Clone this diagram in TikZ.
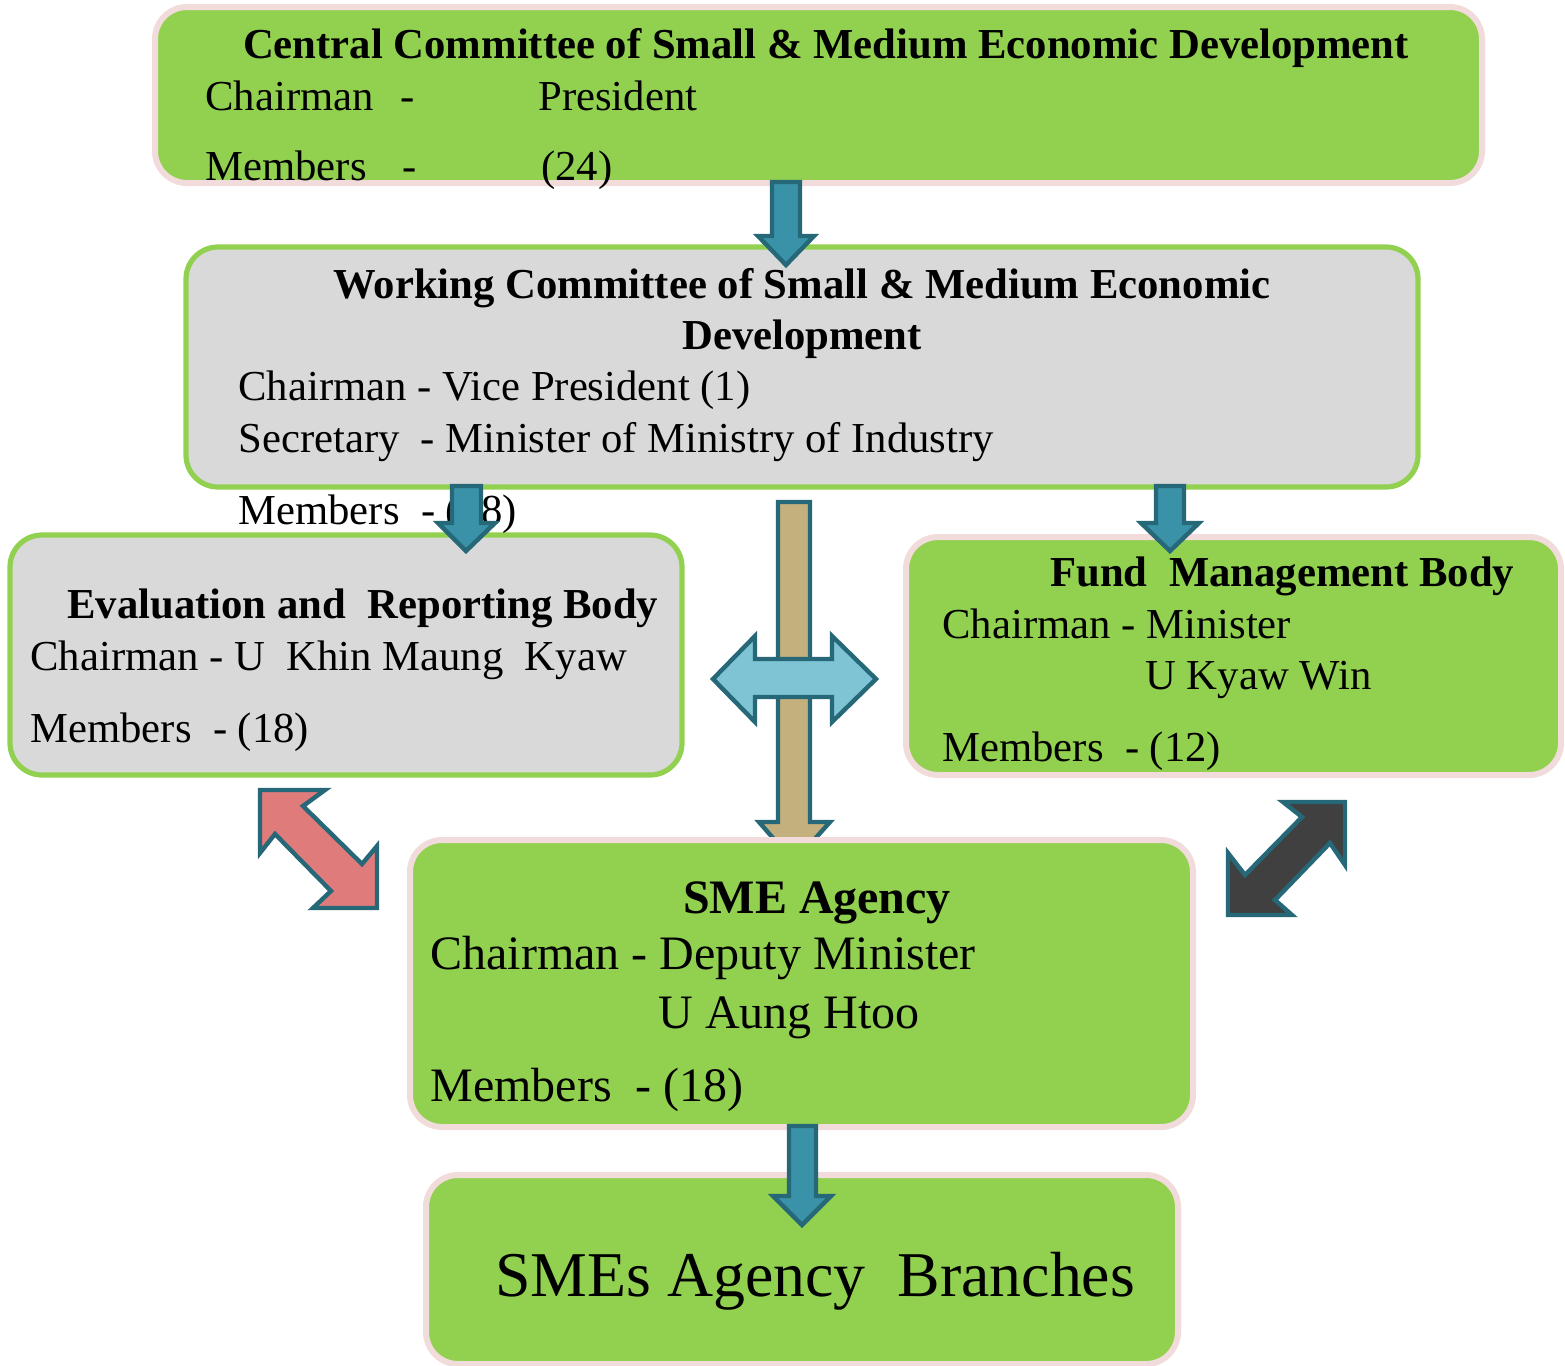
\documentclass[tikz,border=0pt]{standalone}
\usepackage{fontspec}
\setmainfont{Liberation Serif}
\definecolor{boxgreen}{RGB}{146,208,80}
\definecolor{boxpink}{RGB}{242,220,219}
\definecolor{boxgray}{RGB}{217,217,217}
\definecolor{arrfill}{RGB}{57,146,168}
\definecolor{arrline}{RGB}{38,103,120}
\definecolor{tanfill}{RGB}{196,176,124}
\definecolor{lightblue}{RGB}{127,196,212}
\definecolor{redfill}{RGB}{224,123,123}
\definecolor{darkfill}{RGB}{64,64,64}
\tikzset{
  greenbox/.style={fill=boxgreen, draw=boxpink, line width=3pt, rounded corners=16pt},
  graybox/.style={fill=boxgray, draw=boxgreen, line width=2.6pt, rounded corners=16pt},
  blockarrow/.style={draw=arrline, line width=2.2pt, line join=miter},
  txt/.style={anchor=base west, inner sep=0pt, font=\fontsize{21.35}{24}\selectfont},
  ttl/.style={anchor=base, inner sep=0pt, font=\fontsize{21.35}{24}\selectfont\bfseries},
  txtb/.style={anchor=base west, inner sep=0pt, font=\fontsize{24}{27}\selectfont},
}
\begin{document}
\begin{tikzpicture}[x=0.5pt,y=-0.5pt]
\useasboundingbox (0,0) rectangle (1565,1366);

% tan vertical arrow (behind SME Agency box)
\draw[blockarrow, fill=tanfill] (778,502) -- (810,502) -- (810,822) -- (830,822) -- (794,862) -- (759,822) -- (778,822) -- cycle;

% boxes
\draw[greenbox] (155,7) rectangle (1482,183);
\draw[graybox] (186,247) rectangle (1418,487);
\draw[graybox] (10,535) rectangle (682,775);
\draw[greenbox] (906,537) rectangle (1561,775);
\draw[greenbox] (410,840) rectangle (1193,1127);
\draw[greenbox] (426,1175) rectangle (1178,1364);

% box 1 text
\node[ttl] (t1) at (826,58) {Central Committee of Small \& Medium Economic Development};
\node[txt] (c1a) at (205,110) {Chairman};
\node[txt] (c1b) at (400,110) {-};
\node[txt] (c1c) at (538,110) {President};
\node[txt] (m1a) at (205,180) {Members};
\node[txt] (m1b) at (402,180) {-};
\node[txt] (m1c) at (541,180) {(24)};

% box 2 text
\node[ttl] (t2a) at (802,298) {Working Committee of Small \& Medium Economic};
\node[ttl] (t2b) at (802,349) {Development};
\node[txt] (c2) at (238,400) {Chairman - Vice President (1)};
\node[txt] (s2) at (238,452) {Secretary\ \ - Minister of Ministry of Industry};
\node[txt] (m2) at (238,524) {Members\ \ - (18)};

% box 3 text
\node[ttl, anchor=base west] (t3) at (67,618) {Evaluation and\ \ Reporting Body};
\node[txt] (c3) at (30,670) {Chairman - U\ \ Khin Maung\ \ Kyaw};
\node[txt] (m3) at (30,742) {Members\ \ - (18)};

% box 4 text
\node[ttl, anchor=base west] (t4) at (1050,586) {Fund\ \ Management Body};
\node[txt] (c4) at (942,638) {Chairman - Minister};
\node[txt] (u4) at (1145,689) {U Kyaw Win};
\node[txt] (m4) at (942,761) {Members\ \ - (12)};

% box 5 text
\node[ttl, font=\fontsize{24}{27}\selectfont\bfseries] (t5) at (817,913) {SME Agency};
\node[txtb] (c5) at (430,969) {Chairman - Deputy Minister};
\node[txtb] (u5) at (658,1028) {U Aung Htoo};
\node[txtb] (m5) at (430,1101) {Members\ \ - (18)};

% box 6 text
\node[anchor=base west, inner sep=0pt, font=\fontsize{31.9}{36}\selectfont] (t6) at (495,1296) {SMEs Agency\ \ Branches};

% teal down arrows
\draw[blockarrow, fill=arrfill] (772,182) -- (800,182) -- (800,236) -- (814,236) -- (786,265) -- (758,236) -- (772,236) -- cycle;
\draw[blockarrow, fill=arrfill] (452,486) -- (481,486) -- (481,523) -- (495,523) -- (466,551) -- (438,523) -- (452,523) -- cycle;
\draw[blockarrow, fill=arrfill] (1156,486) -- (1184,486) -- (1184,523) -- (1199,523) -- (1170,551) -- (1141,523) -- (1156,523) -- cycle;
\draw[blockarrow, fill=arrfill] (789,1126) -- (816,1126) -- (816,1196) -- (831,1196) -- (802,1225) -- (773,1196) -- (789,1196) -- cycle;

% light blue horizontal double arrow
\draw[blockarrow, fill=lightblue] (713,679) -- (755,636) -- (755,659) -- (832,659) -- (832,636) -- (876,679) -- (832,722) -- (832,697) -- (755,697) -- (755,722) -- cycle;

% red diagonal double arrow
\draw[blockarrow, fill=redfill] (260,790) -- (325,790) -- (303,806) -- (362,864) -- (377,846) -- (377,908) -- (313,908) -- (331,891) -- (275,834) -- (260,853) -- cycle;

% dark diagonal double arrow
\draw[blockarrow, fill=darkfill] (1345,802) -- (1345,865) -- (1330,843) -- (1275,900) -- (1292,915) -- (1228,915) -- (1228,853) -- (1245,875) -- (1302,817) -- (1283,802) -- cycle;
\end{tikzpicture}
\end{document}
